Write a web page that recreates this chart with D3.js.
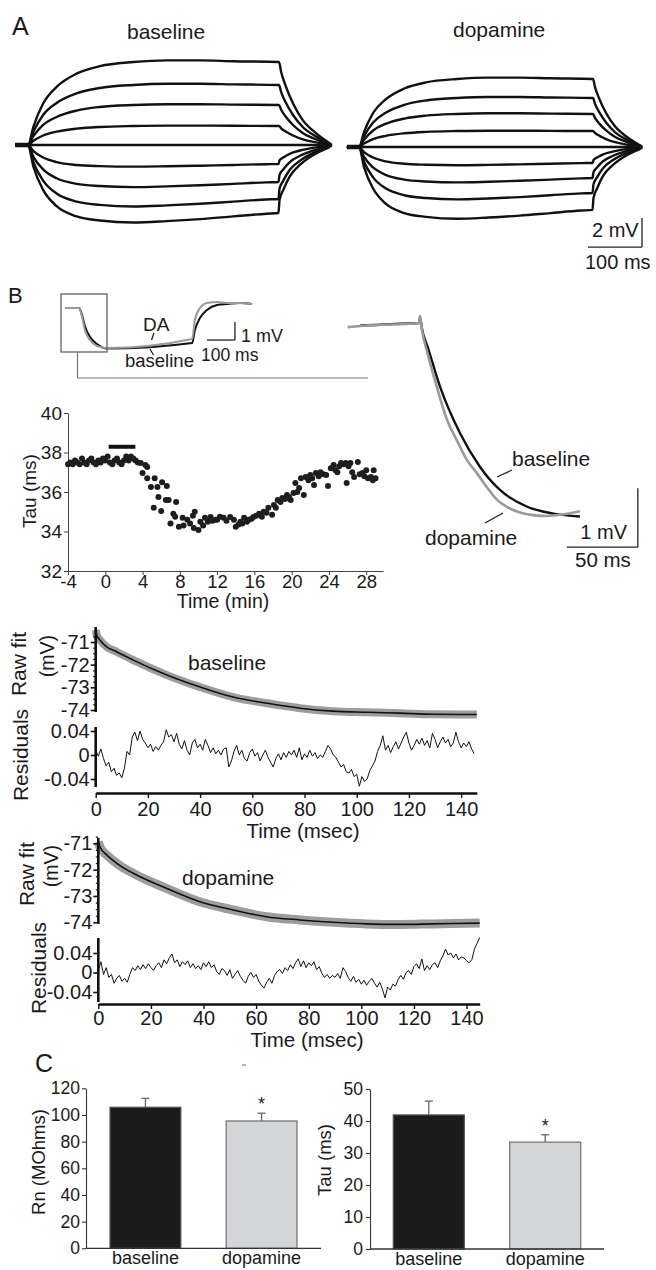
<!DOCTYPE html>
<html>
<head>
<meta charset="utf-8">
<script src="https://cdn.jsdelivr.net/npm/d3@7"></script>
<style>
body { margin: 0; background: #fff; }
</style>
</head>
<body>
<svg id="fig" width="656" height="1270"></svg>
<script>
// ---------- data ----------
// A: end-of-step amplitude of each sweep (mV)
var stepAmpBaseline = [5.72, 4.14, 2.76, 1.31, 0, -1.31, -2.55, -3.72, -4.69];
var stepAmpDopamine = [4.69, 3.38, 2.28, 1.10, 0, -1.10, -2.14, -3.17, -4.34];
// normalised time course of the sweeps (fraction of end-of-step value), step = 0..465 ms
var depolTime = [0, 10, 28, 53, 90, 133, 195, 257, 319, 380, 465, 469, 478, 491, 509, 534, 559];
var depolFrac = [0, 0.22, 0.50, 0.70, 0.86, 0.95, 1.0, 1.02, 1.02, 1.01, 1.0, 0.88, 0.70, 0.50, 0.30, 0.14, 0.02];
var hyperTime = [0, 10, 28, 53, 90, 133, 195, 257, 319, 380, 442, 464, 466, 473, 485, 504, 528, 559];
var hyperFrac = [0, 0.32, 0.66, 0.90, 1.05, 1.11, 1.14, 1.12, 1.09, 1.05, 1.01, 1.0, 0.81, 0.66, 0.46, 0.29, 0.15, 0.03];

// B inset: whole hyperpolarising sweep (ms, mV)
var insetTime = [-50, 0, 11, 21, 39, 64, 100, 404, 414, 432, 457, 493, 529, 575, 618];
var insetDA   = [0, 0, -0.5, -1.22, -1.78, -2.11, -2.22, -1.72, -0.67, 0, 0.28, 0.33, 0.28, 0.28, 0.22];
var insetBase = [0, 0, -0.4, -1.0, -1.6, -2.0, -2.25, -1.94, -1.22, -0.56, -0.11, 0.17, 0.22, 0.28, 0.22];

// B expanded onset (ms, mV)
var onsetTimeDA = [-51, -42, -28, -14, -0.5, 0, 1.4, 5.6, 11.8, 19, 25.8, 33, 39.9, 47, 54, 63, 70.4, 81, 89.2, 99, 112.7];
var onsetDA     = [-0.07, -0.05, -0.03, -0.02, 0, 0.12, -0.12, -0.54, -1.08, -1.64, -1.98, -2.32, -2.54, -2.78, -2.99, -3.14, -3.21, -3.26, -3.27, -3.25, -3.19];
var onsetTimeBase = [-42, -28, -14, -0.5, 0, 1.4, 5.6, 14.1, 28.2, 42.3, 56.3, 75.1, 93.9, 112.7];
var onsetBase     = [-0.04, -0.03, -0.01, 0, 0.1, -0.1, -0.42, -1.08, -1.87, -2.44, -2.83, -3.11, -3.23, -3.28];

// B tau time course (min, ms)
var tauTime = [-4, -3.75, -3.5, -3.25, -3, -2.75, -2.5, -2.25, -2, -1.75, -1.5, -1.25, -1, -0.75, -0.5, -0.25,
  0, 0.25, 0.5, 0.75, 1, 1.25, 1.5, 1.75, 2, 2.25, 2.5, 2.75, 3, 3.25, 3.5,
  3.8, 4.0, 4.3, 4.5, 4.5, 4.9, 5.2, 5.3, 5.6, 5.7, 6.0, 6.1, 6.5, 6.6, 6.8, 7.0, 7.3, 7.5, 7.6, 7.9,
  8.3, 8.4, 8.8, 9.1, 9.4, 9.5, 9.6, 10.0, 10.2, 10.5, 10.7, 11.0, 11.3, 11.5, 11.8, 12.0, 12.3, 12.7,
  13.0, 13.4, 13.8, 14.0, 14.3, 14.5, 14.7, 14.9, 15.2, 15.4, 15.7, 15.9, 16.2, 16.5, 16.8, 17.0, 17.3,
  17.5, 17.9, 18.1, 18.3, 18.5, 18.8, 19.0, 19.3, 19.5, 19.7, 19.9, 20.2, 20.4, 20.6, 20.8, 21.0, 21.3,
  21.5, 21.8, 22.0, 22.2, 22.4, 22.6, 22.9, 23.1, 23.4, 23.7, 23.9, 24.2, 24.5, 24.7, 24.9, 25.1, 25.3,
  25.6, 25.8, 25.9, 26.1, 26.3, 26.5, 26.7, 27.1, 27.3, 27.6, 27.8, 28.0, 28.2, 28.5, 28.7, 28.8, 29.0];
var tauValue = [37.4, 37.5, 37.4, 37.6, 37.5, 37.4, 37.7, 37.5, 37.4, 37.6, 37.7, 37.5, 37.4, 37.6, 37.5, 37.7,
  37.6, 37.8, 37.5, 37.4, 37.6, 37.7, 37.5, 37.4, 37.6, 37.8, 37.6, 37.8, 37.7, 37.6, 37.5,
  37.47, 36.96, 37.37, 37.27, 36.7, 36.25, 35.2, 36.7, 36.25, 35.75, 35.04, 36.5, 35.6, 36.3, 35.6, 34.4, 34.9, 34.75, 35.5, 34.24,
  34.7, 34.3, 34.6, 34.4, 34.8, 34.18, 35.0, 34.08, 34.5, 34.3, 34.7, 34.5, 34.73, 34.55, 34.6, 34.6, 34.75, 34.7,
  34.55, 34.73, 34.6, 34.24, 34.35, 34.5, 34.4, 34.7, 34.5, 34.6, 34.65, 34.73, 34.8, 34.9, 34.75, 35.0, 34.95,
  35.2, 34.85, 35.34, 35.2, 35.6, 35.5, 35.7, 35.65, 35.85, 35.75, 35.6, 35.95, 36.45, 36.0, 36.2, 36.7, 35.85,
  36.76, 36.6, 36.86, 36.7, 36.35, 36.96, 36.8, 37.0, 36.9, 36.86, 36.3, 37.2, 37.37, 37.1, 37.0, 37.3, 37.47,
  37.4, 37.47, 36.45, 37.3, 37.47, 37.0, 36.76, 37.52, 36.9, 36.96, 36.8, 37.1, 36.7, 36.76, 36.6, 37.1, 36.7];
var drugStart = 0.36, drugEnd = 3.23;

// raw traces with fitted exponentials (ms, mV)
var rawTimeBaseline = [0, 0.4, 1.6, 4.2, 8.0, 14.4, 27.3, 40, 52.6, 65.6, 78.3, 90.9, 104, 116.6, 129.2, 146];
var rawBaseline     = [-70.47, -70.69, -70.91, -71.21, -71.43, -71.8, -72.46, -72.99, -73.43, -73.7, -73.92, -74.05, -74.1, -74.14, -74.19, -74.2];
var rawTimeDopamine = [0, 0.6, 3.2, 7, 13.3, 25.9, 38.6, 51.3, 63.9, 76.6, 89.2, 101.9, 114.6, 127.2, 145];
var rawDopamine     = [-70.94, -71.13, -71.44, -71.76, -72.14, -72.71, -73.22, -73.53, -73.79, -73.91, -74.0, -74.06, -74.08, -74.06, -74.03];

// residuals, one value per ms from 0 ms (mV)
var residBaseline = [0.008, -0.002, 0.01, -0.006, -0.018, -0.012, -0.028, -0.022, -0.034, -0.03,
  -0.038, -0.022, 0.006, 0.0, 0.03, 0.038, 0.024, 0.04, 0.026, 0.02,
  0.012, 0.018, 0.006, 0.014, 0.008, 0.016, 0.022, 0.042, 0.03, 0.034,
  0.022, 0.036, 0.018, 0.01, 0.024, 0.008, 0.0, 0.02, 0.026, 0.012,
  0.018, 0.008, 0.026, 0.016, 0.004, 0.012, 0.002, 0.008, 0.0, 0.01,
  0.012, -0.02, -0.01, 0.006, 0.016, 0.0, 0.008, -0.006, -0.01, 0.004,
  0.01, -0.002, 0.004, -0.01, 0.0, 0.008, -0.004, -0.012, -0.02, -0.006,
  0.002, -0.008, 0.004, -0.004, 0.006, 0.0, 0.008, -0.004, 0.012, -0.008,
  0.002, -0.004, 0.008, -0.002, 0.004, -0.006, 0.0, -0.004, 0.006, 0.016,
  0.01, 0.0, -0.004, -0.012, -0.02, -0.016, -0.028, -0.03, -0.024, -0.036,
  -0.032, -0.052, -0.036, -0.044, -0.04, -0.026, -0.018, -0.01, 0.006, 0.016,
  0.032, 0.008, 0.016, 0.004, 0.014, 0.022, 0.01, 0.02, 0.03, 0.038,
  0.02, 0.008, 0.016, 0.026, 0.018, 0.028, 0.016, 0.024, 0.012, 0.036,
  0.026, 0.012, 0.022, 0.03, 0.02, 0.026, 0.014, 0.02, 0.038, 0.022,
  0.012, 0.02, 0.014, 0.022, 0.01, 0.002];
var residDopamine = [0.004, 0.022, -0.004, 0.01, -0.01, -0.004, -0.022, -0.012, -0.006, -0.018,
  -0.012, -0.02, -0.004, 0.01, 0.004, 0.014, 0.006, 0.016, 0.008, 0.018,
  0.01, 0.004, 0.014, 0.02, 0.01, 0.026, 0.018, 0.03, 0.038, 0.02,
  0.026, 0.012, 0.022, 0.016, 0.024, 0.01, 0.018, 0.008, 0.014, 0.006,
  0.02, 0.012, 0.022, 0.01, 0.016, 0.002, -0.004, 0.008, 0.004, -0.006,
  0.006, -0.012, -0.004, 0.004, -0.008, -0.016, -0.022, -0.008, 0.0, -0.01,
  -0.004, -0.018, -0.026, -0.032, -0.02, -0.012, -0.022, -0.006, 0.002, 0.006,
  -0.002, 0.01, 0.004, 0.016, 0.008, 0.02, 0.028, 0.012, 0.024, 0.01,
  0.02, 0.014, 0.022, 0.006, 0.012, -0.002, -0.01, -0.004, -0.012, -0.006,
  -0.01, -0.002, -0.012, 0.01, 0.002, -0.01, -0.018, -0.008, -0.02, -0.014,
  -0.024, -0.016, -0.026, -0.018, -0.012, -0.022, -0.03, -0.02, -0.034, -0.052,
  -0.03, -0.036, -0.024, -0.028, -0.014, -0.006, -0.014, 0.0, 0.004, -0.004,
  0.012, 0.018, 0.008, 0.028, 0.004, 0.014, 0.006, 0.016, 0.02, 0.01,
  0.024, 0.034, 0.048, 0.036, 0.04, 0.03, 0.038, 0.026, 0.032, 0.03,
  0.024, 0.02, 0.026, 0.048, 0.06, 0.072];

// C: group means and SEM
var conditions = ['baseline', 'dopamine'];
var rnMean = [105.8, 95.5];
var rnSem = [6.7, 5.8];
var tauMean = [41.9, 33.4];
var tauSem = [4.3, 2.3];
var rnTicks = [0, 20, 40, 60, 80, 100, 120];
var tauTicks = [0, 10, 20, 30, 40, 50];
var residTimeTicks = [0, 20, 40, 60, 80, 100, 120, 140];
var tauAxisTicks = [32, 34, 36, 38, 40];
var timeMinTicks = [-4, 0, 4, 8, 12, 16, 20, 24, 28];

// ---------- drawing ----------
var svg = d3.select('#fig');
var FONT = '"Liberation Sans", Arial, Helvetica, sans-serif';
var INK = '#1a1a1a';
var GREY = '#9a9a9a';

function txt(x, y, s, size, anchor) {
	return svg.append('text').attr('x', x).attr('y', y).text(s)
		.attr('font-family', FONT).attr('font-size', size).attr('fill', INK)
		.attr('text-anchor', anchor || 'start');
}
// rotated label, (cx, cy) is the centre of the glyphs
function vtxt(cx, cy, s, size) {
	return svg.append('text').attr('x', cx).attr('y', cy).attr('dy', '0.36em').text(s)
		.attr('font-family', FONT).attr('font-size', size).attr('fill', INK)
		.attr('text-anchor', 'middle')
		.attr('transform', 'rotate(-90,' + cx + ',' + cy + ')');
}
function seg(x1, y1, x2, y2, color, w) {
	return svg.append('line').attr('x1', x1).attr('y1', y1).attr('x2', x2).attr('y2', y2)
		.attr('stroke', color).attr('stroke-width', w).attr('stroke-linecap', 'butt');
}
function styleAxis(g, size, color, width) {
	g.attr('font-family', FONT).attr('font-size', size);
	g.selectAll('path, line').attr('stroke', color).attr('stroke-width', width);
	g.selectAll('text').attr('fill', INK);
}
function zip(a, b) { return a.map(function(v, i) { return [v, b[i]]; }); }

// ===== A =====
txt(12, 35, 'A', 25);
txt(127, 39, 'baseline', 21);
txt(453, 37, 'dopamine', 21);

function drawSweeps(amps, xs, ys) {
	var line = d3.line().x(function(d) { return xs(d[0]); }).y(function(d) { return ys(d[1]); })
		.curve(d3.curveMonotoneX);
	amps.forEach(function(a) {
		var t = a >= 0 ? depolTime : hyperTime;
		var f = a >= 0 ? depolFrac : hyperFrac;
		var pts = [[-24, 0]].concat(t.map(function(tt, i) { return [tt, a * f[i]]; }));
		svg.append('path').datum(pts).attr('d', line)
			.attr('fill', 'none').attr('stroke', '#111').attr('stroke-width', 2.4)
			.attr('stroke-linejoin', 'round');
	});
	seg(xs(-24), ys(0), xs(0), ys(0), '#111', 4.5);
	svg.append('circle').attr('cx', xs(559)).attr('cy', ys(0)).attr('r', 2.6).attr('fill', '#111');
}
var xA1 = d3.scaleLinear().domain([0, 465]).range([28, 279]);
var yA1 = d3.scaleLinear().domain([0, 1]).range([145, 130.5]);
var xA2 = d3.scaleLinear().domain([0, 465]).range([359, 593]);
var yA2 = d3.scaleLinear().domain([0, 1]).range([147, 132.5]);
drawSweeps(stepAmpBaseline, xA1, yA1);
drawSweeps(stepAmpDopamine, xA2, yA2);
// scale bar 2 mV / 100 ms
var sbA = { x: 642, y0: yA2(-4.9), y1: yA2(-6.9) };
seg(sbA.x, sbA.y0, sbA.x, sbA.y1, '#222', 1.3);
seg(sbA.x - 54, sbA.y1, sbA.x, sbA.y1, '#222', 1.3);
txt(592, 237, '2 mV', 20);
txt(585, 269, '100 ms', 20);

// ===== B =====
txt(8, 303, 'B', 22);

// inset whole sweep
var ix = d3.scaleLinear().domain([0, 100]).range([79, 107]);
var iy = d3.scaleLinear().domain([0, -1]).range([308, 326]);
var iline = d3.line().x(function(d) { return ix(d[0]); }).y(function(d) { return iy(d[1]); })
	.curve(d3.curveMonotoneX);
svg.append('path').datum(zip(insetTime, insetBase)).attr('d', iline)
	.attr('fill', 'none').attr('stroke', '#111').attr('stroke-width', 2);
svg.append('path').datum(zip(insetTime, insetDA)).attr('d', iline)
	.attr('fill', 'none').attr('stroke', GREY).attr('stroke-width', 2);
svg.append('rect').attr('x', 61).attr('y', 294).attr('width', 46).attr('height', 58)
	.attr('fill', 'none').attr('stroke', '#555').attr('stroke-width', 1.2);
svg.append('path').attr('d', 'M77.5,352V378H368').attr('fill', 'none')
	.attr('stroke', '#777').attr('stroke-width', 1.2);
txt(143, 331, 'DA', 19);
seg(154, 333, 151.5, 340, '#222', 1.3);
seg(150, 349, 153.5, 355, '#222', 1.3);
txt(125, 367, 'baseline', 18.5);
// inset scale bar 1 mV / 100 ms
seg(ix(557), iy(-1.78), ix(557), iy(-0.78), '#222', 1.3);
seg(ix(457), iy(-1.78), ix(557), iy(-1.78), '#222', 1.3);
txt(241, 342, '1 mV', 18);
txt(201, 361, '100 ms', 17.5);

// expanded onset
var bx = d3.scaleLinear().domain([0, 50]).range([420, 491]);
var by = d3.scaleLinear().domain([0, -1]).range([323, 382]);
var bline = d3.line().x(function(d) { return bx(d[0]); }).y(function(d) { return by(d[1]); })
	.curve(d3.curveMonotoneX);
svg.append('path').datum(zip(onsetTimeBase, onsetBase)).attr('d', bline)
	.attr('fill', 'none').attr('stroke', '#111').attr('stroke-width', 2.4);
svg.append('path').datum(zip(onsetTimeDA, onsetDA)).attr('d', bline)
	.attr('fill', 'none').attr('stroke', GREY).attr('stroke-width', 2.6);
txt(512, 466, 'baseline', 21);
seg(497, 477, 512, 470, '#222', 1.3);
txt(425, 545, 'dopamine', 21);
seg(485, 523, 503, 513, '#222', 1.3);
// scale bar 1 mV / 50 ms
seg(bx(153.4), by(-2.8), bx(153.4), by(-3.8), '#222', 1.3);
seg(bx(103.4), by(-3.8), bx(153.4), by(-3.8), '#222', 1.3);
txt(627, 539, '1 mV', 20, 'end');
txt(575, 567, '50 ms', 20.5);

// tau time course
var sx = d3.scaleLinear().domain([-4, 29.8]).range([68, 383]);
var sy = d3.scaleLinear().domain([32, 40]).range([571, 413]);
var gsx = svg.append('g').attr('transform', 'translate(0,571)')
	.call(d3.axisBottom(sx).tickValues(timeMinTicks).tickSize(4).tickPadding(0).tickSizeOuter(0)
		.tickFormat(function(d) { return String(d); }));
styleAxis(gsx, 18.5, '#444', 1);
var gsy = svg.append('g').attr('transform', 'translate(68,0)')
	.call(d3.axisLeft(sy).tickValues(tauAxisTicks).tickSize(4).tickPadding(2).tickSizeOuter(0)
		.tickFormat(function(d) { return String(d); }));
styleAxis(gsy, 19, '#444', 1);
svg.append('g').selectAll('circle').data(zip(tauTime, tauValue)).enter().append('circle')
	.attr('cx', function(d) { return sx(d[0]); })
	.attr('cy', function(d) { return sy(d[1]); })
	.attr('r', 3).attr('fill', '#1e1e1e');
seg(sx(drugStart), sy(38.29), sx(drugEnd), sy(38.29), '#111', 4);
txt(223, 608, 'Time (min)', 19.5, 'middle');
vtxt(29, 491, 'Tau (ms)', 19);

// ===== raw fit + residual panels =====
function fitPanel(o) {
	var x = d3.scaleLinear().domain([0, o.tMax]).range([o.x0, o.x1]);
	var yr = d3.scaleLinear().domain([-71, -74]).range(o.rawRange);
	var ye = d3.scaleLinear().domain([0.04, -0.04]).range(o.resRange);
	var rl = d3.line().x(function(d) { return x(d[0]); }).y(function(d) { return yr(d[1]); })
		.curve(d3.curveMonotoneX);
	var pts = zip(o.rawT, o.rawV);
	svg.append('path').datum(pts).attr('d', rl)
		.attr('fill', 'none').attr('stroke', '#9d9d9d').attr('stroke-width', o.band);
	svg.append('path').datum(pts).attr('d', rl)
		.attr('fill', 'none').attr('stroke', '#111').attr('stroke-width', 1.6);
	var el = d3.line().x(function(d, i) { return x(i); }).y(function(d) { return ye(d); });
	svg.append('path').datum(o.res).attr('d', el)
		.attr('fill', 'none').attr('stroke', '#111').attr('stroke-width', 1);

	// raw axis
	var g1 = svg.append('g').attr('transform', 'translate(' + o.x0 + ',0)')
		.call(d3.axisLeft(yr).tickValues([-71, -72, -73, -74]).tickSize(5).tickPadding(1)
			.tickFormat(function(d) { return String(d); }));
	g1.select('.domain').remove();
	styleAxis(g1, 20, '#111', 1.6);
	var minor = d3.range(-70.75, -74.01, -0.25).filter(function(v) { return v % 1 !== 0; });
	var g1m = svg.append('g').attr('transform', 'translate(' + o.x0 + ',0)')
		.call(d3.axisLeft(yr).tickValues(minor).tickSize(2.5).tickFormat(''));
	g1m.select('.domain').remove();
	styleAxis(g1m, 10, '#111', 1.2);
	seg(o.x0, o.rawTop, o.x0, o.rawBot, '#111', 2.6);

	// residual axis
	var g2 = svg.append('g').attr('transform', 'translate(' + o.x0 + ',0)')
		.call(d3.axisLeft(ye).tickValues([0.04, 0, -0.04]).tickSize(5).tickPadding(1)
			.tickFormat(function(d) { return String(d); }));
	g2.select('.domain').remove();
	styleAxis(g2, 20, '#111', 1.6);
	seg(o.x0, o.resTop, o.x0, o.resBot, '#111', 2.6);

	// time axis
	var g3 = svg.append('g').attr('transform', 'translate(0,' + o.axisY + ')')
		.call(d3.axisBottom(x).tickValues(residTimeTicks).tickSize(5).tickPadding(o.pad).tickSizeOuter(0));
	styleAxis(g3, 20, '#111', 1.4);
	g3.select('.domain').attr('stroke-width', 2.6);

	txt(o.labelX, o.labelY, o.label, 21);
	txt(o.titleX, o.titleY, 'Time (msec)', 20.5, 'middle');
	vtxt(o.rawLabelX, o.rawLabelY, 'Raw fit', 21);
	vtxt(o.mvLabelX, o.rawLabelY - 8, '(mV)', 19.5);
	vtxt(o.resLabelX, o.resLabelY, 'Residuals', 21);
}

fitPanel({
	tMax: 146, x0: 95.7, x1: 476.8,
	rawRange: [642, 710], resRange: [731, 779],
	rawT: rawTimeBaseline, rawV: rawBaseline, res: residBaseline, band: 8,
	rawTop: 627, rawBot: 712, resTop: 727, resBot: 787, axisY: 793, pad: 4,
	label: 'baseline', labelX: 188, labelY: 670,
	titleX: 303, titleY: 838,
	rawLabelX: 18, rawLabelY: 664, mvLabelX: 47, resLabelX: 20, resLabelY: 755
});
fitPanel({
	tMax: 145, x0: 98.3, x1: 479.7,
	rawRange: [843.3, 922.3], resRange: [953, 992],
	rawT: rawTimeDopamine, rawV: rawDopamine, res: residDopamine, band: 9,
	rawTop: 838, rawBot: 924, resTop: 938, resBot: 1002, axisY: 1004, pad: 2,
	label: 'dopamine', labelX: 182, labelY: 885,
	titleX: 307, titleY: 1047,
	rawLabelX: 26, rawLabelY: 874, mvLabelX: 51, resLabelX: 38, resLabelY: 968
});

// ===== C =====
txt(35, 1072, 'C', 25);
seg(242, 1065, 246, 1065, '#666', 1);

function barPanel(o) {
	var x = d3.scaleBand().domain(conditions).range(o.barRange).paddingInner(0.39).paddingOuter(0);
	var y = d3.scaleLinear().domain([0, o.max]).range(o.yRange);
	var gy = svg.append('g').attr('transform', 'translate(' + o.axisX + ',0)')
		.call(d3.axisLeft(y).tickValues(o.ticks).tickSize(4).tickPadding(o.tickPad).tickSizeOuter(0)
			.tickFormat(function(d) { return String(d); }));
	styleAxis(gy, 17.5, '#333', 1.1);
	var bars = svg.append('g');
	var fills = ['#1c1c1c', '#d4d5d7'];
	var strokes = ['#555', '#707070'];
	// error bars (upper half only)
	bars.selectAll('line.err').data(conditions).enter().append('line')
		.attr('x1', function(d) { return x(d) + x.bandwidth() / 2; })
		.attr('x2', function(d) { return x(d) + x.bandwidth() / 2; })
		.attr('y1', function(d, i) { return y(o.mean[i]); })
		.attr('y2', function(d, i) { return y(o.mean[i] + o.sem[i]); })
		.attr('stroke', '#666').attr('stroke-width', 1.3);
	bars.selectAll('line.cap').data(conditions).enter().append('line')
		.attr('x1', function(d) { return x(d) + x.bandwidth() / 2 - 4; })
		.attr('x2', function(d) { return x(d) + x.bandwidth() / 2 + 4; })
		.attr('y1', function(d, i) { return y(o.mean[i] + o.sem[i]); })
		.attr('y2', function(d, i) { return y(o.mean[i] + o.sem[i]); })
		.attr('stroke', '#666').attr('stroke-width', 1.3);
	bars.selectAll('rect').data(conditions).enter().append('rect')
		.attr('x', function(d) { return x(d); })
		.attr('width', x.bandwidth())
		.attr('y', function(d, i) { return y(o.mean[i]); })
		.attr('height', function(d, i) { return y(0) - y(o.mean[i]); })
		.attr('fill', function(d, i) { return fills[i]; })
		.attr('stroke', function(d, i) { return strokes[i]; })
		.attr('stroke-width', 1.2);
	seg(o.axisX, y(0), o.axisEnd, y(0), '#333', 1.3);
	var gx = svg.append('g').attr('transform', 'translate(0,' + y(0) + ')')
		.call(d3.axisBottom(x).tickSize(0).tickPadding(3));
	gx.select('.domain').remove();
	styleAxis(gx, 18, '#333', 1);
	var xd = x('dopamine') + x.bandwidth() / 2;
	txt(xd, y(o.mean[1] + o.sem[1]) - 3, '*', 18, 'middle');
	vtxt(o.titleX, o.titleY, o.title, 18.5);
}

barPanel({
	barRange: [110, 297], yRange: [1248.3, 1088.3], max: 120, ticks: rnTicks, tickPad: 2,
	axisX: 86, axisEnd: 321, mean: rnMean, sem: rnSem,
	title: 'Rn (MOhms)', titleX: 38, titleY: 1162
});
barPanel({
	barRange: [393.3, 580.7], yRange: [1249, 1089], max: 50, ticks: tauTicks, tickPad: 3,
	axisX: 370, axisEnd: 604, mean: tauMean, sem: tauSem,
	title: 'Tau (ms)', titleX: 324, titleY: 1160
});
</script>
</body>
</html>
